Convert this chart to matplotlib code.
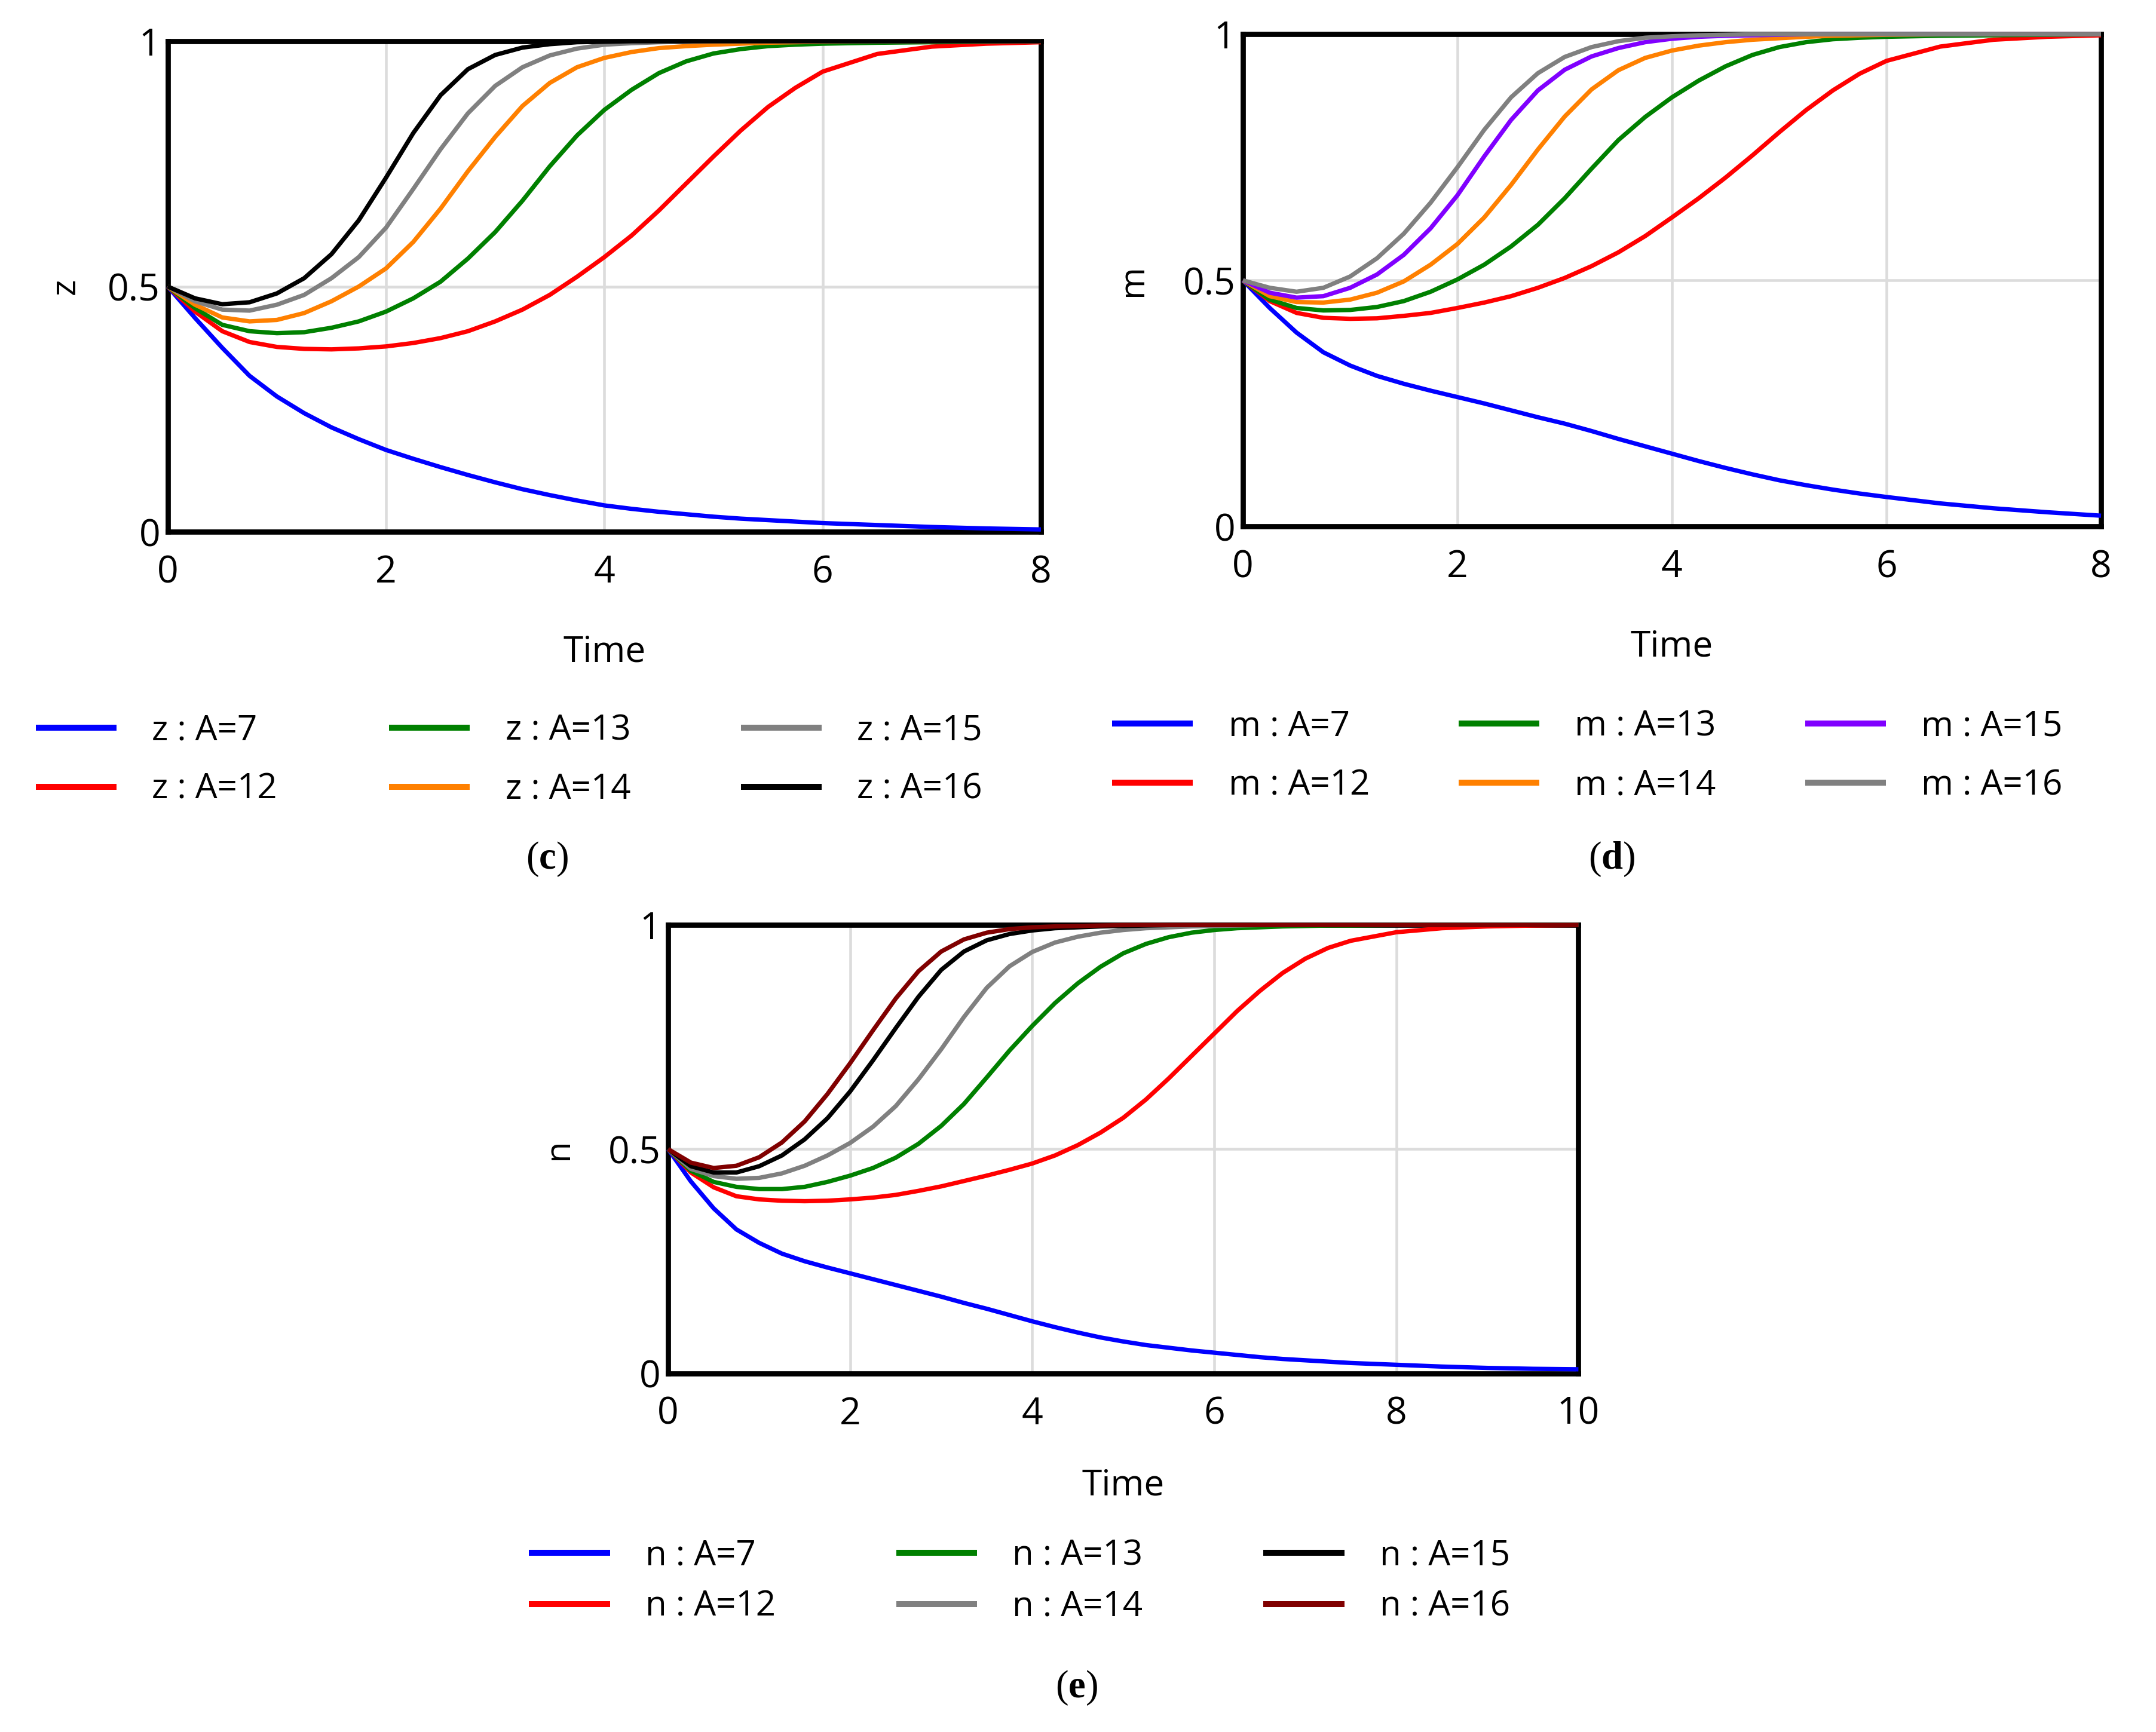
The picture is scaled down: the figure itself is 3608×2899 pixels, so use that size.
import numpy as np
import matplotlib
matplotlib.use('Agg')
import matplotlib.pyplot as plt
from matplotlib.lines import Line2D

plt.rcParams['font.family'] = ['Open Sans', 'DejaVu Sans']
plt.rcParams['mathtext.fontset'] = 'custom'
plt.rcParams['mathtext.rm'] = 'Liberation Serif'
plt.rcParams['mathtext.bf'] = 'Liberation Serif:bold'

# ---- data ----
t_cd = [0, 0.25, 0.5, 0.75, 1, 1.25, 1.5, 1.75, 2, 2.25, 2.5, 2.75, 3, 3.25, 3.5, 3.75,
        4, 4.25, 4.5, 4.75, 5, 5.25, 5.5, 5.75, 6, 6.5, 7, 7.5, 8]

# (c) z
z_a7 = [0.5, 0.436, 0.375, 0.318, 0.276, 0.242, 0.213, 0.189, 0.167, 0.149, 0.132, 0.116, 0.101, 0.087, 0.075, 0.064,
        0.054, 0.047, 0.041, 0.036, 0.031, 0.027, 0.024, 0.021, 0.018, 0.014, 0.010, 0.007, 0.005]
z_a12 = [0.5, 0.449, 0.409, 0.387, 0.377, 0.373, 0.372, 0.374, 0.378, 0.385, 0.395, 0.409, 0.429, 0.453, 0.483, 0.520,
         0.560, 0.604, 0.655, 0.710, 0.765, 0.818, 0.866, 0.905, 0.938, 0.974, 0.989, 0.995, 0.998]
z_a13 = [0.5, 0.456, 0.422, 0.409, 0.405, 0.407, 0.416, 0.429, 0.449, 0.476, 0.510, 0.557, 0.611, 0.675, 0.745, 0.808,
         0.860, 0.901, 0.935, 0.959, 0.975, 0.984, 0.990, 0.993, 0.995, 0.997, 0.998, 0.999, 1.0]
z_a14 = [0.5, 0.463, 0.437, 0.429, 0.432, 0.446, 0.470, 0.500, 0.537, 0.591, 0.659, 0.735, 0.805, 0.868, 0.915, 0.947,
         0.966, 0.978, 0.986, 0.990, 0.993, 0.995, 0.997, 0.998, 0.999, 1.0, 1.0, 1.0, 1.0]
z_a15 = [0.5, 0.470, 0.453, 0.451, 0.463, 0.483, 0.517, 0.560, 0.620, 0.699, 0.780, 0.853, 0.909, 0.947, 0.971, 0.985,
         0.993, 0.996, 0.998, 0.999, 1.0, 1.0, 1.0, 1.0, 1.0, 1.0, 1.0, 1.0, 1.0]
z_a16 = [0.5, 0.476, 0.464, 0.468, 0.486, 0.517, 0.566, 0.635, 0.722, 0.813, 0.890, 0.943, 0.972, 0.987, 0.994, 0.998,
         0.999, 1.0, 1.0, 1.0, 1.0, 1.0, 1.0, 1.0, 1.0, 1.0, 1.0, 1.0, 1.0]

# (d) m
m_a7 = [0.5, 0.444, 0.394, 0.354, 0.327, 0.306, 0.290, 0.276, 0.263, 0.250, 0.236, 0.222, 0.209, 0.194, 0.178, 0.163,
        0.148, 0.133, 0.119, 0.106, 0.094, 0.084, 0.075, 0.067, 0.060, 0.047, 0.037, 0.029, 0.022]
m_a12 = [0.5, 0.458, 0.434, 0.424, 0.422, 0.423, 0.428, 0.434, 0.444, 0.455, 0.468, 0.485, 0.505, 0.529, 0.557, 0.590,
         0.628, 0.667, 0.709, 0.754, 0.801, 0.846, 0.886, 0.920, 0.946, 0.975, 0.989, 0.995, 0.998]
m_a13 = [0.5, 0.461, 0.444, 0.439, 0.440, 0.446, 0.458, 0.477, 0.502, 0.532, 0.569, 0.613, 0.667, 0.727, 0.785, 0.832,
         0.872, 0.906, 0.935, 0.958, 0.974, 0.984, 0.990, 0.993, 0.995, 0.997, 0.998, 0.999, 1.0]
m_a14 = [0.5, 0.468, 0.456, 0.455, 0.461, 0.475, 0.498, 0.532, 0.574, 0.628, 0.694, 0.766, 0.833, 0.888, 0.927, 0.952,
         0.967, 0.977, 0.984, 0.989, 0.992, 0.995, 0.997, 0.998, 0.999, 1.0, 1.0, 1.0, 1.0]
m_a15 = [0.5, 0.475, 0.465, 0.468, 0.485, 0.512, 0.552, 0.606, 0.673, 0.752, 0.826, 0.886, 0.928, 0.955, 0.972, 0.984,
         0.991, 0.995, 0.997, 0.998, 0.999, 1.0, 1.0, 1.0, 1.0, 1.0, 1.0, 1.0, 1.0]
m_a16 = [0.5, 0.485, 0.477, 0.485, 0.508, 0.545, 0.595, 0.658, 0.730, 0.806, 0.872, 0.921, 0.954, 0.974, 0.986, 0.993,
         0.996, 0.998, 0.999, 1.0, 1.0, 1.0, 1.0, 1.0, 1.0, 1.0, 1.0, 1.0, 1.0]

# (e) n
t_e = [0, 0.25, 0.5, 0.75, 1, 1.25, 1.5, 1.75, 2, 2.25, 2.5, 2.75, 3, 3.25, 3.5, 3.75,
       4, 4.25, 4.5, 4.75, 5, 5.25, 5.5, 5.75, 6, 6.25, 6.5, 6.75, 7, 7.25, 7.5, 8, 8.5, 9, 9.5, 10]
n_a7 = [0.5, 0.428, 0.368, 0.321, 0.291, 0.267, 0.250, 0.236, 0.223, 0.210, 0.197, 0.184, 0.171, 0.157, 0.144, 0.130,
        0.116, 0.103, 0.091, 0.080, 0.071, 0.063, 0.057, 0.051, 0.046, 0.041, 0.036, 0.032, 0.029, 0.026, 0.023,
        0.019, 0.015, 0.012, 0.010, 0.009]
n_a12 = [0.5, 0.448, 0.415, 0.395, 0.388, 0.385, 0.384, 0.385, 0.388, 0.392, 0.398, 0.407, 0.417, 0.429, 0.441, 0.454,
         0.468, 0.486, 0.509, 0.537, 0.570, 0.611, 0.658, 0.708, 0.758, 0.808, 0.853, 0.893, 0.925, 0.949, 0.965,
         0.984, 0.993, 0.997, 0.999, 1.0]
n_a13 = [0.5, 0.452, 0.427, 0.416, 0.411, 0.411, 0.416, 0.427, 0.441, 0.458, 0.481, 0.512, 0.552, 0.601, 0.660, 0.720,
         0.775, 0.826, 0.870, 0.907, 0.937, 0.958, 0.973, 0.983, 0.989, 0.993, 0.995, 0.997, 0.998, 0.999, 0.999,
         1.0, 1.0, 1.0, 1.0, 1.0]
n_a14 = [0.5, 0.456, 0.440, 0.434, 0.436, 0.446, 0.463, 0.486, 0.514, 0.550, 0.596, 0.656, 0.723, 0.795, 0.860, 0.908,
         0.940, 0.961, 0.974, 0.983, 0.989, 0.993, 0.995, 0.997, 0.998, 0.999, 1.0, 1.0, 1.0, 1.0, 1.0,
         1.0, 1.0, 1.0, 1.0, 1.0]
n_a15 = [0.5, 0.462, 0.448, 0.448, 0.462, 0.486, 0.522, 0.569, 0.629, 0.698, 0.770, 0.840, 0.900, 0.941, 0.966, 0.980,
         0.988, 0.993, 0.995, 0.997, 0.998, 0.999, 1.0, 1.0, 1.0, 1.0, 1.0, 1.0, 1.0, 1.0, 1.0,
         1.0, 1.0, 1.0, 1.0, 1.0]
n_a16 = [0.5, 0.470, 0.458, 0.463, 0.482, 0.515, 0.562, 0.623, 0.692, 0.765, 0.836, 0.897, 0.941, 0.968, 0.983, 0.991,
         0.995, 0.997, 0.998, 0.999, 1.0, 1.0, 1.0, 1.0, 1.0, 1.0, 1.0, 1.0, 1.0, 1.0, 1.0,
         1.0, 1.0, 1.0, 1.0, 1.0]

A_labels = ['A=7', 'A=12', 'A=13', 'A=14', 'A=15', 'A=16']
colors_c = ['#0000ff', '#ff0000', '#008000', '#ff8000', '#808080', '#000000']
colors_d = ['#0000ff', '#ff0000', '#008000', '#ff8000', '#8000ff', '#808080']
colors_e = ['#0000ff', '#ff0000', '#008000', '#808080', '#000000', '#800000']

FS = 14
fig = plt.figure(figsize=(3608 / 300, 2899 / 300), dpi=300)


def panel(rect, t, series, colors, var, xmax, xticks, xlabelpad=17, ylabelpad=13):
    ax = fig.add_axes(rect)
    for y, c in zip(series, colors):
        ax.plot(t, y, color=c, lw=1.75, zorder=3, clip_on=False,
                solid_joinstyle='round', solid_capstyle='butt')
    ax.set_xlim(0, xmax)
    ax.set_ylim(0, 1)
    ax.set_xticks(xticks)
    ax.set_yticks([0, 0.5, 1])
    ax.set_yticklabels(['0', '0.5', '1'])
    ax.tick_params(length=0, labelsize=15)
    ax.tick_params(axis='x', pad=9)
    ax.tick_params(axis='y', pad=3)
    ax.grid(True, color='#dcdcdc', lw=1.1)
    ax.set_axisbelow(True)
    for s in ax.spines.values():
        s.set_linewidth(2.1)
        s.set_color('black')
    ax.set_xlabel('Time', fontsize=14.5, labelpad=xlabelpad)
    ax.set_ylabel(var, fontsize=FS, labelpad=ylabelpad)
    return ax


def legend_cols(x_cols, y_mid, var, colors, spacing):
    for j, x0 in enumerate(x_cols):
        handles = [Line2D([], [], color=colors[2 * j + k], lw=2.4) for k in range(2)]
        labels = [f'{var} : {A_labels[2 * j + k]}' for k in range(2)]
        fig.legend(handles, labels, loc='center left', bbox_to_anchor=(x0, y_mid),
                   frameon=False, fontsize=FS, handlelength=2.15, handletextpad=1.1,
                   borderpad=0, borderaxespad=0, labelspacing=spacing)


panel([0.0778, 0.6929, 0.4050, 0.2833], t_cd, [z_a7, z_a12, z_a13, z_a14, z_a15, z_a16],
      colors_c, 'z', 8, [0, 2, 4, 6, 8], ylabelpad=10)
panel([0.5765, 0.6960, 0.3980, 0.2842], t_cd, [m_a7, m_a12, m_a13, m_a14, m_a15, m_a16],
      colors_d, 'm', 8, [0, 2, 4, 6, 8])
panel([0.3099, 0.2071, 0.4222, 0.2588], t_e, [n_a7, n_a12, n_a13, n_a14, n_a15, n_a16],
      colors_e, 'n', 10, [0, 2, 4, 6, 8, 10], xlabelpad=14)

legend_cols([0.0179, 0.1818, 0.3450], 0.5610, 'z', colors_c, 0.68)
legend_cols([0.5172, 0.6779, 0.8386], 0.5634, 'm', colors_d, 0.68)
legend_cols([0.2468, 0.4171, 0.5874], 0.0870, 'n', colors_e, 0.47)

for x, y, s in [(0.2538, 0.5040, 'c'), (0.7474, 0.5040, 'd'), (0.4994, 0.0254, 'e')]:
    fig.text(x, y, r'($\mathbf{' + s + r'}$)', fontsize=15.5, ha='center', va='center',
             family='Liberation Serif')

fig.savefig('out.png', dpi=300)
